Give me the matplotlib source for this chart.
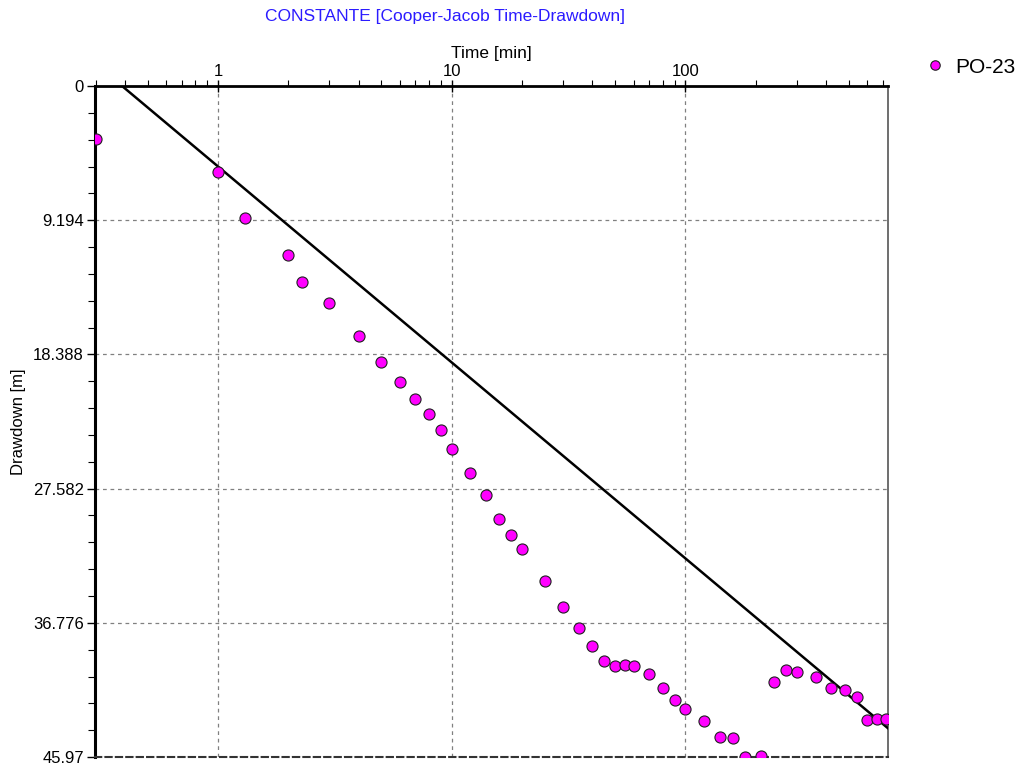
import matplotlib.pyplot as plt
from matplotlib.ticker import FixedLocator, FuncFormatter, LogLocator, NullFormatter, AutoMinorLocator
import numpy as np

plt.rcParams['font.family'] = ['Liberation Sans', 'DejaVu Sans']

# observed drawdown at well PO-23
time_min = [0.3, 1, 1.3, 2, 2.3, 3, 4, 5, 6, 7, 8, 9, 10, 12, 14, 16, 18, 20,
            25, 30, 35, 40, 45, 50, 55, 60, 70, 80, 90, 100, 120, 140, 160,
            180, 210, 240, 270, 300, 360, 420, 480, 540, 600, 660, 720]
drawdown_m = [3.63, 5.89, 9.04, 11.58, 13.43, 14.87, 17.13, 18.91, 20.28,
              21.44, 22.47, 23.57, 24.87, 26.51, 28.02, 29.66, 30.76, 31.72,
              33.91, 35.69, 37.13, 38.36, 39.39, 39.73, 39.67, 39.73, 40.28,
              41.24, 42.06, 42.68, 43.5, 44.6, 44.7, 45.97, 45.9, 40.81,
              39.99, 40.17, 40.49, 41.22, 41.4, 41.84, 43.43, 43.37, 43.35]

# Cooper-Jacob straight line fit (endpoints)
fit_t = [0.389, 735]
fit_s = [0.0, 44.0]

y_ticks = [0, 9.194, 18.388, 27.582, 36.776, 45.97]
y_labels = ['0', '9.194', '18.388', '27.582', '36.776', '45.97']

fig = plt.figure(figsize=(10.18, 7.67), dpi=100)
ax = fig.add_axes([0.0933, 0.0130, 0.7790, 0.8749])

ax.plot(fit_t, fit_s, color='black', lw=1.8, zorder=3)
ax.plot(time_min, drawdown_m, 'o', ms=8, mfc='#ff00ff', mec='#202020',
        mew=0.8, label='PO-23', zorder=4, clip_on=True)

ax.set_xscale('log')
ax.set_xlim(0.298, 735)
ax.set_ylim(45.97, 0)

ax.xaxis.tick_top()
ax.xaxis.set_label_position('top')
ax.xaxis.set_major_locator(FixedLocator([1, 10, 100]))
ax.xaxis.set_major_formatter(FuncFormatter(lambda v, p: '%g' % v))
ax.xaxis.set_minor_locator(LogLocator(base=10, subs=np.arange(2, 10)))
ax.xaxis.set_minor_formatter(NullFormatter())

ax.yaxis.set_major_locator(FixedLocator(y_ticks))
ax.set_yticklabels(y_labels)
ax.yaxis.set_minor_locator(AutoMinorLocator(5))

ax.tick_params(axis='x', which='major', direction='inout', length=8, width=1,
               labelsize=12, pad=1)
ax.tick_params(axis='x', which='minor', direction='out', length=4, width=0.8)
ax.tick_params(axis='y', which='major', direction='out', length=6, width=1,
               labelsize=12, pad=2)
ax.tick_params(axis='y', which='minor', direction='out', length=5, width=0.8)

ax.grid(True, which='major', color='gray', linestyle=(0, (3, 3)), lw=0.9)

ax.spines['left'].set_linewidth(2.2)
ax.spines['left'].set_color('black')
ax.spines['top'].set_linewidth(2)
ax.spines['top'].set_color('black')
ax.spines['right'].set_linewidth(1.2)
ax.spines['right'].set_color('#555555')
ax.spines['bottom'].set_linewidth(1.5)
ax.spines['bottom'].set_color('#333333')
ax.spines['bottom'].set_linestyle((0, (3, 2)))

ax.set_xlabel('Time [min]', fontsize=12.5, labelpad=4)
ax.set_ylabel('Drawdown [m]', fontsize=12, labelpad=5)

fig.text(0.437, 0.979, 'CONSTANTE [Cooper-Jacob Time-Drawdown]', color='#2b1bff',
         fontsize=12.5, ha='center', va='center')

fig.legend(loc='center left', bbox_to_anchor=(0.9087, 0.9126), frameon=False,
           fontsize=15, handlelength=1, handletextpad=0.43, borderpad=0,
           borderaxespad=0, markerscale=0.85)

fig.savefig('out.png', dpi=100)
